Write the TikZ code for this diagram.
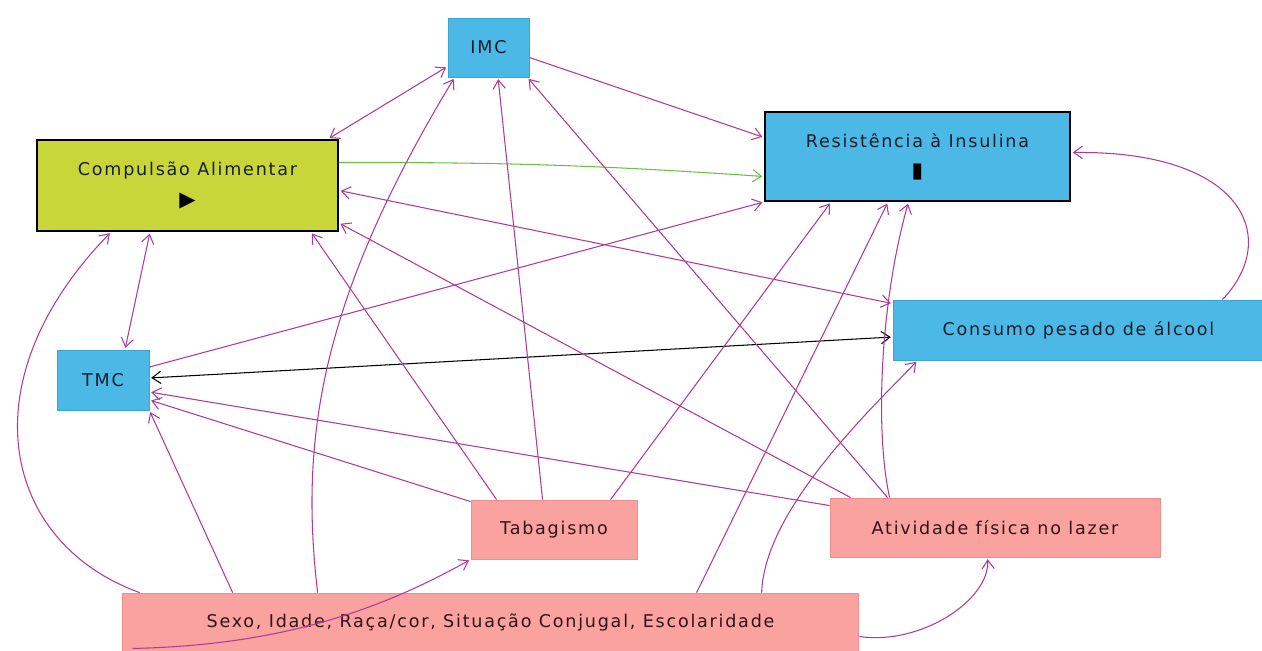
\documentclass[tikz,border=0pt]{standalone}
\usepackage{fontspec}
\setmainfont[LetterSpace=10]{DejaVu Sans}
\usepackage{xcolor}
\usetikzlibrary{arrows.meta,positioning,calc}

\definecolor{boxblue}{RGB}{76,184,230}
\definecolor{lineblue}{RGB}{60,165,215}
\definecolor{boxgreen}{RGB}{200,214,58}
\definecolor{boxpink}{RGB}{250,162,160}
\definecolor{linepink}{RGB}{240,140,140}
\definecolor{linkpurple}{RGB}{176,58,150}
\definecolor{linkgreen}{RGB}{108,190,72}
\definecolor{textdark}{RGB}{25,30,45}
\definecolor{textbrown}{RGB}{50,20,20}

\begin{document}
\begin{tikzpicture}[
        x=0.02cm, y=-0.02cm,
        var/.style={rectangle, draw=lineblue, fill=boxblue, line width=0.5pt, inner sep=0pt, text=textdark, font=\fontsize{10}{12}\selectfont, align=center},
        key/.style={var, draw=black, line width=1.1pt},
        cov/.style={var, draw=linepink, fill=boxpink, text=textbrown},
        arrow/.style={-{Straight Barb[length=5pt,width=7pt]}, draw=linkpurple, line width=0.6pt, shorten >=1pt},
        twoway/.style={arrow, {Straight Barb[length=5pt,width=7pt]}-{Straight Barb[length=5pt,width=7pt]}, shorten <=1pt}
    ]
        \useasboundingbox (0,0) rectangle (1262,650);

        % Blocks
        \node[var, minimum width=1.62cm, minimum height=1.18cm] (imc) at (488.5,47.5) {IMC};
        \node[key, fill=boxgreen, minimum width=6.02cm, minimum height=1.82cm] (comp) at (187.5,185.5) {Compulsão Alimentar\\[6pt]{\fontsize{12}{12}\selectfont\color{black}▶}};
        \node[key, minimum width=6.1cm, minimum height=1.78cm] (resist) at (917.5,156.5) {Resistência à Insulina\\[5pt]{\fontsize{12}{12}\selectfont\color{black}▮}};
        \node[var, minimum width=7.42cm, minimum height=1.2cm] (cons) at (1078.5,330) {Consumo pesado de álcool};
        \node[var, minimum width=1.84cm, minimum height=1.2cm] (tmc) at (103,380) {TMC};
        \node[cov, minimum width=3.32cm, minimum height=1.18cm] (taba) at (554,529.5) {Tabagismo};
        \node[cov, minimum width=6.6cm, minimum height=1.18cm] (ativ) at (995,527.5) {Atividade física no lazer};
        \node[cov, minimum width=14.74cm, minimum height=1.18cm] (sexo) at (490.5,622.5) {Sexo, Idade, Raça/cor, Situação Conjugal, Escolaridade};

        % Arrows
        \draw[twoway] ($(comp.north east)+(-11,0)$) -- ($(imc.south west)+(0,-11)$);
        \draw[arrow] ($(imc.east)+(0,10)$) -- ($(resist.west)+(0,-19)$);
        \draw[arrow, draw=linkgreen] ($(comp.east)+(0,-23)$) to[bend left=2] ($(resist.west)+(0,20)$);
        \draw[twoway] ($(comp.south west)+(114,0)$) -- ($(tmc.north)+(22,0)$);
        \draw[arrow] ($(tmc.east)+(0,-13)$) -- (resist.south west);
        \draw[twoway] ($(comp.east)+(0,5)$) -- ($(cons.north west)+(0,4)$);
        \draw[twoway, draw=black] ($(tmc.east)+(0,-2)$) -- ($(cons.west)+(0,7)$);
        \draw[arrow] ($(cons.north east)+(-42,0)$) .. controls ($(cons.north east)+(16,-60)$) and ($(resist.east)+(175,-6)$) .. ($(resist.east)+(0,-4)$);

        \draw[arrow] ($(ativ.north west)+(21,0)$) -- ($(comp.south east)+(0,-9)$);
        \draw[arrow] ($(ativ.north west)+(0,8)$) -- ($(tmc.east)+(0,12)$);
        \draw[arrow] ($(ativ.north west)+(58,0)$) -- ($(imc.south east)+(-2,0)$);
        \draw[arrow] ($(ativ.north west)+(60,0)$) .. controls ($(ativ.north west)+(45,-68)$) and ($(resist.south)+(-37,99)$) .. ($(resist.south)+(-9,0)$);

        \draw[arrow] ($(taba.north west)+(0,2)$) -- ($(tmc.east)+(0,20)$);
        \draw[arrow] ($(taba.north west)+(26,0)$) -- ($(comp.south east)+(-28,0)$);
        \draw[arrow] ($(taba.north west)+(72,0)$) -- ($(imc.south)+(9.5,0)$);
        \draw[arrow] ($(taba.north west)+(140,0)$) -- ($(resist.south west)+(67,0)$);

        \draw[arrow] ($(sexo.north west)+(18,0)$) .. controls ($(sexo.north west)+(-120,-50)$) and ($(comp.south west)+(-70,149)$) .. ($(comp.south west)+(75,0)$);
        \draw[arrow] ($(sexo.north west)+(111,0)$) -- (tmc.south east);
        \draw[arrow] ($(sexo.north west)+(196,0)$) .. controls ($(sexo.north west)+(178,-153)$) and ($(imc.south west)+(-128,223)$) .. ($(imc.south west)+(7,0)$);
        \draw[arrow] ($(sexo.south west)+(11,-4)$) .. controls ($(sexo.south west)+(158,-7)$) and ($(taba.south west)+(-91,51)$) .. (taba.south west);
        \draw[arrow] ($(sexo.north west)+(575,0)$) -- ($(resist.south)+(-29.5,0)$);
        \draw[arrow] ($(sexo.north west)+(640,0)$) .. controls ($(sexo.north west)+(643,-83)$) and ($(cons.south west)+(-23,50)$) .. ($(cons.south west)+(25,0)$);
        \draw[arrow] ($(sexo.east)+(0,14)$) .. controls ($(sexo.east)+(61,23)$) and ($(ativ.south west)+(160,43)$) .. ($(ativ.south west)+(158,0)$);

\end{tikzpicture}
\end{document}
